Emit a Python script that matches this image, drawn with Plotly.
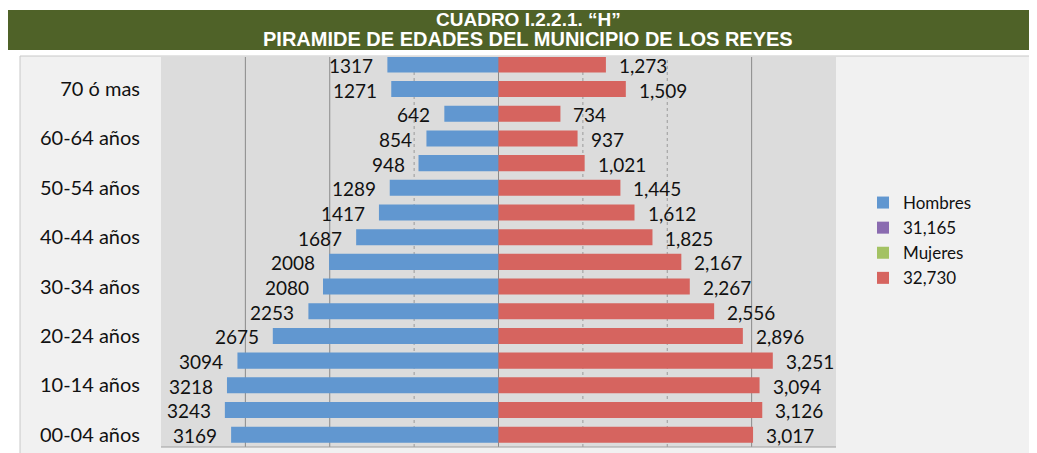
import plotly.graph_objects as go

# ---------------- data ----------------
categories = ["00-04 años", "05-09 años", "10-14 años", "15-19 años", "20-24 años",
              "25-29 años", "30-34 años", "35-39 años", "40-44 años", "45-49 años",
              "50-54 años", "55-59 años", "60-64 años", "65-69 años", "70 ó mas",
              "No especificado"]
hombres = [3169, 3243, 3218, 3094, 2675, 2253, 2080, 2008, 1687, 1417, 1289, 948, 854, 642, 1271, 1317]
mujeres = [3017, 3126, 3094, 3251, 2896, 2556, 2267, 2167, 1825, 1612, 1445, 1021, 937, 734, 1509, 1273]
tick_positions = [0, 2, 4, 6, 8, 10, 12, 14]
tick_labels = ["00-04 años", "10-14 años", "20-24 años", "30-34 años",
               "40-44 años", "50-54 años", "60-64 años", "70 ó mas"]
grid_solid = [-3000, -2000, 0, 3000]
grid_dashed = [-1000, 1000, 2000]
title_line1 = "CUADRO I.2.2.1. “H”"
title_line2 = "PIRAMIDE DE EDADES DEL MUNICIPIO DE LOS REYES"

# ---------------- style ----------------
O = 8                                   # page body margin offset
W, H = 1037 - O, 453 - O
L, R, T, B = 161 - O, 836 - O, 57 - O, 447 - O   # plot area in figure pixels
FONT = "Lato, Open Sans, sans-serif"
BLUE = "#6197D0"
RED = "#D6645F"
PURPLE = "#8A6BB0"
GREEN = "#A3C263"


def px(x):
    """screen x -> paper x"""
    return (x - O - L) / (R - L)


def py(y):
    """screen y -> paper y"""
    return (B - (y - O)) / (B - T)


ypos = list(range(len(categories)))

fig = go.Figure()
fig.add_trace(go.Bar(y=ypos, x=[-v for v in hombres], orientation="h",
                     name="Hombres", marker=dict(color=BLUE, line=dict(width=0)),
                     width=0.65, legendgroup="a", hoverinfo="skip"))
fig.add_trace(go.Bar(y=[0], x=[0], orientation="h", name=f"{sum(hombres):,}",
                     marker=dict(color=PURPLE, line=dict(width=0)), width=0.65,
                     legendgroup="b", hoverinfo="skip"))
fig.add_trace(go.Bar(y=[0], x=[0], orientation="h", name="Mujeres",
                     marker=dict(color=GREEN, line=dict(width=0)), width=0.65,
                     legendgroup="c", hoverinfo="skip"))
fig.add_trace(go.Bar(y=ypos, x=mujeres, orientation="h",
                     name=f"{sum(mujeres):,}", marker=dict(color=RED, line=dict(width=0)),
                     width=0.65, legendgroup="d", hoverinfo="skip"))

annotations = []
for i, (h, m) in enumerate(zip(hombres, mujeres)):
    annotations.append(dict(x=-h, y=i, xref="x", yref="y", text=str(h), showarrow=False,
                            xanchor="right", yanchor="middle", xshift=-12, yshift=-1,
                            font=dict(family=FONT, size=19, color="#111")))
    annotations.append(dict(x=m, y=i, xref="x", yref="y", text=f"{m:,}", showarrow=False,
                            xanchor="left", yanchor="middle", xshift=11, yshift=-1,
                            font=dict(family=FONT, size=19, color="#111")))

# header text
annotations.append(dict(x=px(528), y=py(20), xref="paper", yref="paper", text=f"<b>{title_line1}</b>",
                        showarrow=False, xanchor="center", yanchor="middle",
                        font=dict(family="Liberation Sans, Arial", size=19, color="white")))
annotations.append(dict(x=px(528), y=py(39), xref="paper", yref="paper", text=f"<b>{title_line2}</b>",
                        showarrow=False, xanchor="center", yanchor="middle",
                        font=dict(family="Liberation Sans, Arial", size=20, color="white")))

shapes = [
    # header banner
    dict(type="rect", xref="paper", yref="paper", x0=px(8), x1=px(1040), y0=py(50), y1=py(10),
         fillcolor="#4F6228", line=dict(width=0), layer="below"),
    # outer chart area
    dict(type="rect", xref="paper", yref="paper", x0=px(20), x1=px(1040), y0=py(456), y1=py(56),
         fillcolor="#F1F1F1", line=dict(color="#C8C8C8", width=1), layer="below"),
    # plot area
    dict(type="rect", xref="paper", yref="paper", x0=0, x1=1, y0=0, y1=1,
         fillcolor="#DCDCDC", line=dict(width=0), layer="below"),
]
for g in grid_solid:
    shapes.append(dict(type="line", xref="x", yref="paper", x0=g, x1=g, y0=0, y1=1,
                       line=dict(color="#8A8A8A", width=1), layer="below"))
for g in grid_dashed:
    shapes.append(dict(type="line", xref="x", yref="paper", x0=g, x1=g, y0=0, y1=1,
                       line=dict(color="#9A9A9A", width=1, dash="dot"), layer="below"))
shapes.append(dict(type="line", xref="paper", yref="paper", x0=0, x1=1, y0=0, y1=0,
                   line=dict(color="#A0A0A0", width=1), layer="below"))

fig.update_layout(
    width=W, height=H,
    margin=dict(l=L, r=W - R, t=T, b=H - B, pad=0),
    paper_bgcolor="white", plot_bgcolor="rgba(0,0,0,0)",
    barmode="overlay", bargap=0.35,
    showlegend=True,
    legend=dict(x=px(863), y=py(185), xref="paper", yref="paper", xanchor="left", yanchor="top",
                traceorder="grouped", tracegroupgap=0, bgcolor="rgba(0,0,0,0)",
                font=dict(family=FONT, size=17, color="#111"), itemwidth=30),
    xaxis=dict(range=[-4000, 4000], showgrid=False, zeroline=False, showticklabels=False,
               fixedrange=True),
    yaxis=dict(range=[-0.5, 15.3], tickmode="array", tickvals=tick_positions, ticktext=tick_labels,
               showgrid=False, zeroline=False, ticks="", ticklabelstandoff=20,
               tickfont=dict(family=FONT, size=20, color="#111"), fixedrange=True),
    annotations=annotations,
    shapes=shapes,
)

fig.write_html("out.html")
